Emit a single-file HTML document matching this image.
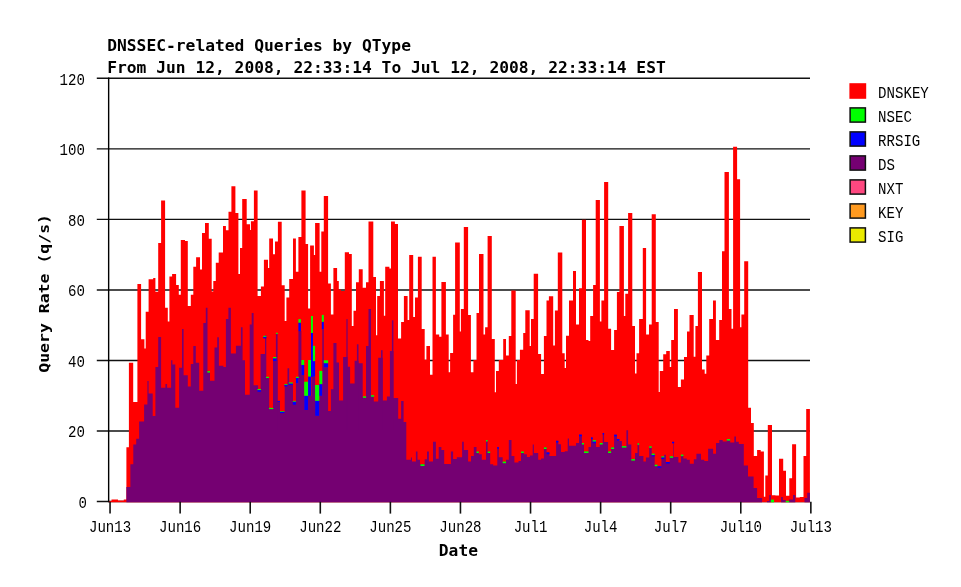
<!DOCTYPE html>
<html><head><meta charset="utf-8"><title>DNSSEC-related Queries by QType</title>
<style>
html,body{margin:0;padding:0;background:#fff;width:961px;height:587px;overflow:hidden}
svg{display:block;will-change:transform}
.b{font-family:"DejaVu Sans Mono","Liberation Mono",monospace;font-weight:bold;font-size:15px;fill:#000}
.s{font-family:"Liberation Mono","DejaVu Sans Mono",monospace;font-size:17.3px;fill:#000}
</style></head><body>
<svg width="961" height="587" viewBox="0 0 961 587">
<rect width="961" height="587" fill="#fff"/>
<line x1="96.8" y1="501.50" x2="810" y2="501.50" stroke="#111" stroke-width="1.45"/>
<line x1="96.8" y1="430.97" x2="810" y2="430.97" stroke="#111" stroke-width="1.45"/>
<line x1="96.8" y1="360.44" x2="810" y2="360.44" stroke="#111" stroke-width="1.45"/>
<line x1="96.8" y1="289.91" x2="810" y2="289.91" stroke="#111" stroke-width="1.45"/>
<line x1="96.8" y1="219.38" x2="810" y2="219.38" stroke="#111" stroke-width="1.45"/>
<line x1="96.8" y1="148.85" x2="810" y2="148.85" stroke="#111" stroke-width="1.45"/>
<line x1="96.8" y1="78.32" x2="810" y2="78.32" stroke="#111" stroke-width="1.45"/>
<path d="M108.6,502.3L108.6,500.9L111.5,500.9L111.5,499.4L118.0,499.4L118.0,500.4L123.8,500.4L123.8,499.4L126.4,499.4L126.4,447.2L128.9,447.2L128.9,362.7L133.2,362.7L133.2,402.0L137.4,402.0L137.4,283.9L141.1,283.9L141.1,339.3L144.4,339.3L144.4,348.5L145.7,348.5L145.7,311.8L148.6,311.8L148.6,279.2L153.2,279.2L153.2,278.0L155.4,278.0L155.4,291.8L158.2,291.8L158.2,243.0L161.1,243.0L161.1,200.4L165.1,200.4L165.1,307.8L167.8,307.8L167.8,321.5L169.4,321.5L169.4,276.4L172.1,276.4L172.1,273.9L176.1,273.9L176.1,285.1L178.8,285.1L178.8,294.8L180.8,294.8L180.8,240.0L185.0,240.0L185.0,241.0L187.8,241.0L187.8,305.9L190.8,305.9L190.8,294.8L193.3,294.8L193.3,266.7L196.1,266.7L196.1,257.2L200.0,257.2L200.0,269.4L202.0,269.4L202.0,233.0L205.0,233.0L205.0,223.0L208.8,223.0L208.8,238.8L211.7,238.8L211.7,291.4L213.3,291.4L213.3,281.0L215.8,281.0L215.8,262.7L218.7,262.7L218.7,252.5L223.0,252.5L223.0,226.0L225.9,226.0L225.9,230.2L228.5,230.2L228.5,211.8L231.4,211.8L231.4,186.2L235.4,186.2L235.4,213.0L238.4,213.0L238.4,273.9L240.0,273.9L240.0,248.0L242.2,248.0L242.2,199.0L246.7,199.0L246.7,224.3L250.0,224.3L250.0,230.0L250.9,230.0L250.9,221.3L253.9,221.3L253.9,190.4L257.6,190.4L257.6,296.1L260.9,296.1L260.9,286.4L263.9,286.4L263.9,259.7L268.0,259.7L268.0,268.0L269.2,268.0L269.2,238.4L273.0,238.4L273.0,254.3L275.0,254.3L275.0,241.5L277.9,241.5L277.9,221.8L281.7,221.8L281.7,285.2L284.7,285.2L284.7,321.1L286.4,321.1L286.4,297.4L289.2,297.4L289.2,279.0L293.0,279.0L293.0,238.4L295.9,238.4L295.9,271.8L298.4,271.8L298.4,237.1L301.4,237.1L301.4,190.4L305.6,190.4L305.6,244.0L308.1,244.0L308.1,308.6L310.1,308.6L310.1,245.5L313.9,245.5L313.9,255.1L315.1,255.1L315.1,223.1L319.6,223.1L319.6,271.8L321.3,271.8L321.3,231.4L323.8,231.4L323.8,195.9L328.1,195.9L328.1,283.5L330.9,283.5L330.9,314.4L333.4,314.4L333.4,268.0L337.1,268.0L337.1,281.0L338.8,281.0L338.8,289.4L341.0,289.4L341.0,291.0L344.8,291.0L344.8,252.3L349.0,252.3L349.0,254.0L351.8,254.0L351.8,326.1L353.5,326.1L353.5,310.7L356.0,310.7L356.0,282.2L358.8,282.2L358.8,269.3L362.7,269.3L362.7,287.7L366.0,287.7L366.0,282.2L368.5,282.2L368.5,221.4L373.3,221.4L373.3,276.9L376.0,276.9L376.0,335.3L377.2,335.3L377.2,296.0L379.9,296.0L379.9,281.0L383.9,281.0L383.9,315.7L385.2,315.7L385.2,266.8L389.4,266.8L389.4,268.5L391.0,268.5L391.0,221.4L394.9,221.4L394.9,223.9L398.0,223.9L398.0,338.6L401.1,338.6L401.1,321.9L403.9,321.9L403.9,296.0L407.6,296.0L407.6,320.0L409.2,320.0L409.2,255.1L413.2,255.1L413.2,317.0L415.0,317.0L415.0,297.6L417.9,297.6L417.9,256.7L421.7,256.7L421.7,328.9L424.7,328.9L424.7,359.8L426.4,359.8L426.4,346.1L430.0,346.1L430.0,374.8L432.5,374.8L432.5,256.7L435.9,256.7L435.9,334.4L439.2,334.4L439.2,336.7L441.4,336.7L441.4,282.1L445.9,282.1L445.9,334.4L448.7,334.4L448.7,372.3L450.1,372.3L450.1,353.1L453.1,353.1L453.1,314.7L455.1,314.7L455.1,242.5L459.8,242.5L459.8,331.4L460.9,331.4L460.9,308.9L463.8,308.9L463.8,227.0L468.1,227.0L468.1,315.0L470.9,315.0L470.9,372.3L473.4,372.3L473.4,360.1L476.5,360.1L476.5,313.0L479.0,313.0L479.0,253.9L483.5,253.9L483.5,334.4L485.1,334.4L485.1,327.2L487.6,327.2L487.6,235.9L491.8,235.9L491.8,338.9L494.8,338.9L494.8,392.3L496.0,392.3L496.0,371.1L498.8,371.1L498.8,360.1L503.2,360.1L503.2,338.9L506.0,338.9L506.0,355.6L508.8,355.6L508.8,336.0L511.3,336.0L511.3,290.5L515.7,290.5L515.7,384.0L516.9,384.0L516.9,360.1L519.9,360.1L519.9,349.7L523.2,349.7L523.2,333.0L525.3,333.0L525.3,310.3L529.7,310.3L529.7,346.1L531.0,346.1L531.0,318.9L533.7,318.9L533.7,273.8L538.1,273.8L538.1,353.9L541.1,353.9L541.1,373.9L543.9,373.9L543.9,336.0L546.5,336.0L546.5,300.5L548.9,300.5L548.9,296.3L553.2,296.3L553.2,345.6L554.9,345.6L554.9,310.5L557.8,310.5L557.8,252.4L562.3,252.4L562.3,353.3L564.7,353.3L564.7,368.0L566.0,368.0L566.0,335.8L569.0,335.8L569.0,300.4L573.0,300.4L573.0,271.0L576.0,271.0L576.0,324.4L579.0,324.4L579.0,288.2L581.9,288.2L581.9,219.7L586.0,219.7L586.0,340.0L588.5,340.0L588.5,341.1L590.2,341.1L590.2,316.1L593.1,316.1L593.1,284.9L595.7,284.9L595.7,200.0L599.9,200.0L599.9,321.6L601.4,321.6L601.4,300.4L604.1,300.4L604.1,182.0L608.2,182.0L608.2,328.8L611.1,328.8L611.1,350.0L614.1,350.0L614.1,330.0L616.9,330.0L616.9,292.0L619.4,292.0L619.4,225.9L623.9,225.9L623.9,316.1L625.3,316.1L625.3,293.7L628.1,293.7L628.1,213.1L632.3,213.1L632.3,326.1L635.0,326.1L635.0,373.5L636.5,373.5L636.5,353.3L639.1,353.3L639.1,319.1L642.8,319.1L642.8,248.0L646.1,248.0L646.1,334.5L649.0,334.5L649.0,324.4L651.7,324.4L651.7,214.2L655.8,214.2L655.8,322.1L658.7,322.1L658.7,391.9L659.8,391.9L659.8,371.0L663.2,371.0L663.2,354.2L666.2,354.2L666.2,351.1L669.8,351.1L669.8,366.9L671.2,366.9L671.2,340.0L674.0,340.0L674.0,309.1L677.9,309.1L677.9,386.9L680.9,386.9L680.9,379.4L684.0,379.4L684.0,357.0L687.0,357.0L687.0,331.6L689.5,331.6L689.5,314.9L693.7,314.9L693.7,356.7L695.4,356.7L695.4,326.1L697.9,326.1L697.9,272.0L702.0,272.0L702.0,369.4L704.7,369.4L704.7,373.7L706.3,373.7L706.3,355.4L709.2,355.4L709.2,319.0L713.0,319.0L713.0,300.4L715.9,300.4L715.9,339.9L719.2,339.9L719.2,320.1L722.0,320.1L722.0,251.2L724.5,251.2L724.5,172.1L728.9,172.1L728.9,309.1L731.5,309.1L731.5,328.7L733.1,328.7L733.1,146.7L737.1,146.7L737.1,179.2L740.1,179.2L740.1,327.2L741.4,327.2L741.4,314.6L744.2,314.6L744.2,261.2L748.2,261.2L748.2,407.8L751.0,407.8L751.0,423.0L753.8,423.0L753.8,456.0L757.1,456.0L757.1,450.0L760.7,450.0L760.7,451.5L763.9,451.5L763.9,496.7L765.3,496.7L765.3,475.4L767.8,475.4L767.8,424.9L772.0,424.9L772.0,495.2L775.4,495.2L775.4,495.6L779.0,495.6L779.0,458.8L783.2,458.8L783.2,470.8L786.0,470.8L786.0,495.7L789.3,495.7L789.3,478.2L792.1,478.2L792.1,444.2L796.1,444.2L796.1,497.5L799.8,497.5L799.8,497.1L803.5,497.1L803.5,456.1L806.2,456.1L806.2,408.9L809.9,408.9L809.9,502.3Z" fill="#ff0000"/>
<path d="M126.4,502.3L126.4,487.0L130.4,487.0L130.4,464.2L133.3,464.2L133.3,444.6L136.2,444.6L136.2,438.8L139.1,438.8L139.1,421.4L144.1,421.4L144.1,404.4L147.4,404.4L147.4,381.0L148.6,381.0L148.6,393.6L152.7,393.6L152.7,416.0L155.4,416.0L155.4,366.9L158.2,366.9L158.2,337.0L161.1,337.0L161.1,387.8L165.4,387.8L165.4,384.0L167.1,384.0L167.1,387.8L171.1,387.8L171.1,360.2L172.4,360.2L172.4,364.4L175.3,364.4L175.3,407.8L179.1,407.8L179.1,367.7L182.0,367.7L182.0,329.0L183.6,329.0L183.6,375.2L187.8,375.2L187.8,386.4L190.8,386.4L190.8,364.0L193.3,364.0L193.3,346.0L195.8,346.0L195.8,362.7L199.2,362.7L199.2,390.8L203.3,390.8L203.3,323.1L205.8,323.1L205.8,307.8L207.5,307.8L207.5,372.0L210.0,372.0L210.0,380.7L214.5,380.7L214.5,347.4L217.2,347.4L217.2,337.3L218.9,337.3L218.9,365.7L223.4,365.7L223.4,366.9L225.9,366.9L225.9,319.0L228.4,319.0L228.4,307.8L230.9,307.8L230.9,353.5L235.9,353.5L235.9,345.7L240.9,345.7L240.9,327.3L242.6,327.3L242.6,360.2L245.0,360.2L245.0,394.8L249.7,394.8L249.7,324.5L251.7,324.5L251.7,313.1L253.6,313.1L253.6,385.2L258.1,385.2L258.1,390.3L260.6,390.3L260.6,354.0L265.0,354.0L265.0,337.0L266.3,337.0L266.3,377.5L269.2,377.5L269.2,408.4L273.0,408.4L273.0,360.0L277.5,360.0L277.5,400.9L280.0,400.9L280.0,411.8L284.7,411.8L284.7,385.0L287.5,385.0L287.5,368.3L289.2,368.3L289.2,383.4L293.0,383.4L293.0,401.7L295.9,401.7L295.9,383.4L298.4,383.4L298.4,331.1L301.4,331.1L301.4,375.0L304.2,375.0L304.2,410.0L308.1,410.0L308.1,395.9L311.4,395.9L311.4,376.7L315.1,376.7L315.1,415.9L319.3,415.9L319.3,395.9L322.3,395.9L322.3,329.4L323.8,329.4L323.8,367.5L328.1,367.5L328.1,410.9L330.9,410.9L330.9,389.2L333.4,389.2L333.4,343.1L336.5,343.1L336.5,362.5L339.0,362.5L339.0,400.6L343.1,400.6L343.1,357.0L347.6,357.0L347.6,366.7L350.1,366.7L350.1,383.4L354.6,383.4L354.6,360.8L358.5,360.8L358.5,363.3L362.7,363.3L362.7,397.6L366.0,397.6L366.0,346.1L368.5,346.1L368.5,309.0L371.0,309.0L371.0,395.6L373.8,395.6L373.8,401.4L378.2,401.4L378.2,357.8L382.7,357.8L382.7,400.6L386.9,400.6L386.9,396.4L389.9,396.4L389.9,351.1L393.5,351.1L393.5,398.1L398.2,398.1L398.2,418.8L401.1,418.8L401.1,400.9L403.6,400.9L403.6,421.9L406.3,421.9L406.3,459.7L410.9,459.7L410.9,457.6L412.0,457.6L412.0,461.4L415.9,461.4L415.9,451.4L417.5,451.4L417.5,459.7L420.0,459.7L420.0,464.3L424.7,464.3L424.7,459.2L427.0,459.2L427.0,451.4L428.9,451.4L428.9,461.4L433.0,461.4L433.0,441.7L435.9,441.7L435.9,458.7L438.7,458.7L438.7,447.1L441.4,447.1L441.4,450.1L444.2,450.1L444.2,463.9L450.9,463.9L450.9,451.4L453.1,451.4L453.1,458.9L456.8,458.9L456.8,457.2L462.1,457.2L462.1,441.7L463.8,441.7L463.8,450.1L468.1,450.1L468.1,461.4L471.0,461.4L471.0,455.9L473.8,455.9L473.8,447.1L476.5,447.1L476.5,451.7L478.8,451.7L478.8,454.2L481.8,454.2L481.8,459.7L486.0,459.7L486.0,440.0L487.6,440.0L487.6,451.7L490.2,451.7L490.2,464.3L493.2,464.3L493.2,465.6L497.3,465.6L497.3,447.1L498.8,447.1L498.8,457.2L502.7,457.2L502.7,461.8L506.0,461.8L506.0,459.7L508.8,459.7L508.8,440.0L511.5,440.0L511.5,455.9L514.4,455.9L514.4,462.6L518.5,462.6L518.5,460.9L521.0,460.9L521.0,451.7L523.9,451.7L523.9,454.2L526.9,454.2L526.9,457.1L529.9,457.1L529.9,455.4L532.7,455.4L532.7,444.6L533.9,444.6L533.9,453.1L538.2,453.1L538.2,459.7L541.1,459.7L541.1,458.4L543.9,458.4L543.9,447.6L546.6,447.6L546.6,452.6L549.4,452.6L549.4,455.9L556.1,455.9L556.1,440.9L558.3,440.9L558.3,444.2L561.0,444.2L561.0,452.0L564.7,452.0L564.7,451.2L567.7,451.2L567.7,438.6L569.0,438.6L569.0,445.8L576.0,445.8L576.0,443.1L579.0,443.1L579.0,434.8L581.9,434.8L581.9,443.1L584.0,443.1L584.0,451.5L588.5,451.5L588.5,447.0L591.0,447.0L591.0,437.5L592.7,437.5L592.7,440.3L596.0,440.3L596.0,447.0L599.7,447.0L599.7,443.1L602.7,443.1L602.7,433.1L604.1,433.1L604.1,442.0L608.1,442.0L608.1,451.5L611.1,451.5L611.1,447.5L614.1,447.5L614.1,434.8L616.9,434.8L616.9,439.1L619.4,439.1L619.4,441.1L621.9,441.1L621.9,446.2L626.4,446.2L626.4,430.3L628.1,430.3L628.1,444.5L631.3,444.5L631.3,459.2L635.0,459.2L635.0,453.1L637.5,453.1L637.5,443.4L639.2,443.4L639.2,455.9L643.4,455.9L643.4,461.4L645.9,461.4L645.9,457.6L649.2,457.6L649.2,446.4L651.7,446.4L651.7,453.7L654.7,453.7L654.7,464.8L657.5,464.8L657.5,466.4L661.4,466.4L661.4,456.4L664.2,456.4L664.2,454.7L665.9,454.7L665.9,462.1L669.7,462.1L669.7,456.4L673.1,456.4L673.1,441.7L673.7,441.7L673.7,457.1L678.4,457.1L678.4,462.6L680.9,462.6L680.9,454.7L683.4,454.7L683.4,458.4L686.8,458.4L686.8,459.7L689.8,459.7L689.8,463.8L693.8,463.8L693.8,459.2L696.4,459.2L696.4,453.7L701.0,453.7L701.0,459.7L704.3,459.7L704.3,460.9L708.1,460.9L708.1,448.7L713.1,448.7L713.1,453.7L716.0,453.7L716.0,443.1L719.3,443.1L719.3,440.0L722.7,440.0L722.7,441.4L726.8,441.4L726.8,439.2L730.2,439.2L730.2,442.6L734.3,442.6L734.3,436.4L736.0,436.4L736.0,441.7L738.8,441.7L738.8,444.0L743.8,444.0L743.8,465.6L748.0,465.6L748.0,476.4L753.6,476.4L753.6,488.0L757.1,488.0L757.1,498.0L762.1,498.0L762.1,502.3L766.9,502.3L766.9,501.0L769.2,501.0L769.2,495.1L770.9,495.1L770.9,502.3L781.1,502.3L781.1,496.9L782.9,496.9L782.9,499.9L785.8,499.9L785.8,502.3L789.1,502.3L789.1,499.6L793.0,499.6L793.0,495.1L795.3,495.1L795.3,502.3L804.5,502.3L804.5,498.0L807.2,498.0L807.2,492.7L809.9,492.7L809.9,502.3Z" fill="#750072"/>
<rect x="275.9" y="333.6" width="1.7" height="96.4" fill="#750072"/><rect x="346.4" y="319.1" width="1.2" height="110.9" fill="#750072"/><rect x="356.9" y="344.3" width="1.6" height="85.7" fill="#750072"/><rect x="381.0" y="350.2" width="1.6" height="79.8" fill="#750072"/><rect x="391.9" y="320.3" width="1.5" height="109.7" fill="#750072"/><rect x="298.4" y="319.1" width="2.5" height="3.7" fill="#00ff00"/><rect x="298.4" y="322.8" width="2.5" height="8.3" fill="#0000ff"/><rect x="301.4" y="360" width="2.8" height="5.0" fill="#00ff00"/><rect x="301.4" y="365" width="2.8" height="10.0" fill="#0000ff"/><rect x="304.2" y="381.7" width="3.9" height="14.2" fill="#00ff00"/><rect x="304.2" y="395.9" width="3.9" height="14.1" fill="#0000ff"/><rect x="308.1" y="360" width="2.9" height="16.7" fill="#00ff00"/><rect x="308.1" y="376.7" width="2.9" height="19.2" fill="#0000ff"/><rect x="311.0" y="316" width="1.9" height="17.0" fill="#00ff00"/><rect x="311.0" y="333" width="1.9" height="44.0" fill="#0000ff"/><rect x="312.9" y="345.8" width="2.2" height="15.4" fill="#00ff00"/><rect x="312.9" y="361.2" width="2.2" height="15.5" fill="#0000ff"/><rect x="315.1" y="385" width="4.2" height="15.9" fill="#00ff00"/><rect x="315.1" y="400.9" width="4.2" height="15.0" fill="#0000ff"/><rect x="319.3" y="370.9" width="3.0" height="13.3" fill="#00ff00"/><rect x="319.3" y="384.2" width="3.0" height="11.7" fill="#0000ff"/><rect x="321.8" y="314.9" width="2.0" height="7.0" fill="#00ff00"/><rect x="321.8" y="321.9" width="2.0" height="7.5" fill="#0000ff"/><rect x="323.8" y="360.3" width="4.3" height="3.0" fill="#00ff00"/><rect x="323.8" y="363.3" width="4.3" height="4.2" fill="#0000ff"/><rect x="265" y="335.5" width="1.3" height="1.5" fill="#0000ff"/><rect x="273" y="357" width="3.4" height="1.5" fill="#00ff00"/><rect x="273" y="358.5" width="3.4" height="2.5" fill="#0000ff"/><rect x="295.9" y="377.5" width="2.5" height="5.9" fill="#0000ff"/><rect x="207.4" y="371.1" width="2.6" height="1.5" fill="#00ff00"/><rect x="257.5" y="389" width="3.5" height="1.2" fill="#00ff00"/><rect x="257.5" y="390.2" width="3.5" height="1.6" fill="#0000ff"/><rect x="263.2" y="335.8" width="3.1" height="1.1" fill="#00ff00"/><rect x="263.2" y="336.9" width="3.1" height="1.5" fill="#0000ff"/><rect x="266" y="376.8" width="3.0" height="1.2" fill="#00ff00"/><rect x="269" y="407.9" width="4.3" height="1.2" fill="#00ff00"/><rect x="275.9" y="332.8" width="1.9" height="1.1" fill="#00ff00"/><rect x="277.5" y="400.9" width="2.5" height="1.0" fill="#0000ff"/><rect x="280" y="411" width="4.4" height="0.8" fill="#00ff00"/><rect x="280" y="411.8" width="4.4" height="1.3" fill="#0000ff"/><rect x="284.4" y="384" width="3.0" height="0.9" fill="#00ff00"/><rect x="284.4" y="384.9" width="3.0" height="1.5" fill="#0000ff"/><rect x="288.7" y="382.5" width="4.1" height="1.2" fill="#00ff00"/><rect x="288.7" y="383.7" width="4.1" height="1.2" fill="#0000ff"/><rect x="292.8" y="400.9" width="3.1" height="0.9" fill="#00ff00"/><rect x="292.8" y="401.8" width="3.1" height="3.0" fill="#0000ff"/><rect x="295.9" y="376.8" width="3.0" height="1.1" fill="#00ff00"/><rect x="363" y="396.3" width="3.1" height="1.5" fill="#00ff00"/><rect x="371" y="395.2" width="3.1" height="1.5" fill="#00ff00"/><rect x="420.5" y="464.3" width="4.0" height="1.7" fill="#00ff00"/><rect x="476.5" y="451.5" width="2.3" height="1.5" fill="#00ff00"/><rect x="486" y="440" width="1.6" height="1.5" fill="#00ff00"/><rect x="487.6" y="451.5" width="2.6" height="1.5" fill="#00ff00"/><rect x="497.3" y="447.1" width="1.5" height="1.7" fill="#0000ff"/><rect x="502.7" y="461.6" width="3.3" height="1.6" fill="#00ff00"/><rect x="521" y="451.5" width="2.9" height="1.5" fill="#00ff00"/><rect x="543.9" y="447.4" width="2.7" height="1.6" fill="#00ff00"/><rect x="546.6" y="452.4" width="2.8" height="1.8" fill="#0000ff"/><rect x="556.1" y="440.7" width="2.2" height="1.8" fill="#0000ff"/><rect x="579" y="434.6" width="2.9" height="1.6" fill="#0000ff"/><rect x="581.9" y="443" width="2.1" height="1.5" fill="#00ff00"/><rect x="584" y="451.4" width="4.5" height="1.6" fill="#00ff00"/><rect x="591" y="437.4" width="1.7" height="1.6" fill="#0000ff"/><rect x="592.7" y="440.2" width="3.3" height="1.5" fill="#00ff00"/><rect x="592.7" y="441.7" width="3.3" height="1.5" fill="#0000ff"/><rect x="599.7" y="443" width="3.0" height="1.5" fill="#00ff00"/><rect x="602.7" y="433" width="1.4" height="1.6" fill="#0000ff"/><rect x="608.1" y="451.4" width="3.0" height="1.6" fill="#00ff00"/><rect x="611.1" y="447.4" width="3.0" height="1.6" fill="#00ff00"/><rect x="614.1" y="434.7" width="2.8" height="1.6" fill="#0000ff"/><rect x="616.9" y="439" width="2.5" height="1.6" fill="#0000ff"/><rect x="621.9" y="446.1" width="4.5" height="1.5" fill="#00ff00"/><rect x="631.3" y="459.1" width="3.7" height="1.5" fill="#00ff00"/><rect x="637.5" y="443.3" width="1.7" height="1.5" fill="#00ff00"/><rect x="649.2" y="446.3" width="2.5" height="1.5" fill="#00ff00"/><rect x="651.7" y="453.6" width="3.0" height="1.5" fill="#00ff00"/><rect x="651.7" y="455.1" width="3.0" height="1.3" fill="#0000ff"/><rect x="654.7" y="464.7" width="2.8" height="1.5" fill="#00ff00"/><rect x="657.5" y="466.3" width="3.9" height="1.5" fill="#0000ff"/><rect x="661.4" y="456.3" width="2.8" height="1.3" fill="#00ff00"/><rect x="661.4" y="457.6" width="2.8" height="1.4" fill="#0000ff"/><rect x="665.9" y="462" width="3.8" height="1.6" fill="#0000ff"/><rect x="669.7" y="456.3" width="3.4" height="1.5" fill="#00ff00"/><rect x="672" y="441.8" width="2.2" height="1.5" fill="#0000ff"/><rect x="680.9" y="454.6" width="2.5" height="1.5" fill="#00ff00"/><rect x="726.8" y="439.1" width="3.4" height="1.5" fill="#00ff00"/><rect x="770.9" y="499.6" width="3.1" height="2.7" fill="#00ff00"/><rect x="785.8" y="500.8" width="3.3" height="1.5" fill="#00ff00"/>
<line x1="108.65" y1="77.62" x2="108.65" y2="502.2" stroke="#000" stroke-width="1.4"/>
<line x1="110.05" y1="501.8" x2="110.05" y2="513.6" stroke="#111" stroke-width="1.6"/>
<text x="110.05" y="531.9" text-anchor="middle" class="s" textLength="42.2" lengthAdjust="spacingAndGlyphs">Jun13</text>
<line x1="180.13" y1="501.8" x2="180.13" y2="513.6" stroke="#111" stroke-width="1.6"/>
<text x="180.13" y="531.9" text-anchor="middle" class="s" textLength="42.2" lengthAdjust="spacingAndGlyphs">Jun16</text>
<line x1="250.21" y1="501.8" x2="250.21" y2="513.6" stroke="#111" stroke-width="1.6"/>
<text x="250.21" y="531.9" text-anchor="middle" class="s" textLength="42.2" lengthAdjust="spacingAndGlyphs">Jun19</text>
<line x1="320.29" y1="501.8" x2="320.29" y2="513.6" stroke="#111" stroke-width="1.6"/>
<text x="320.29" y="531.9" text-anchor="middle" class="s" textLength="42.2" lengthAdjust="spacingAndGlyphs">Jun22</text>
<line x1="390.37" y1="501.8" x2="390.37" y2="513.6" stroke="#111" stroke-width="1.6"/>
<text x="390.37" y="531.9" text-anchor="middle" class="s" textLength="42.2" lengthAdjust="spacingAndGlyphs">Jun25</text>
<line x1="460.45" y1="501.8" x2="460.45" y2="513.6" stroke="#111" stroke-width="1.6"/>
<text x="460.45" y="531.9" text-anchor="middle" class="s" textLength="42.2" lengthAdjust="spacingAndGlyphs">Jun28</text>
<line x1="530.53" y1="501.8" x2="530.53" y2="513.6" stroke="#111" stroke-width="1.6"/>
<text x="530.53" y="531.9" text-anchor="middle" class="s" textLength="33.8" lengthAdjust="spacingAndGlyphs">Jul1</text>
<line x1="600.61" y1="501.8" x2="600.61" y2="513.6" stroke="#111" stroke-width="1.6"/>
<text x="600.61" y="531.9" text-anchor="middle" class="s" textLength="33.8" lengthAdjust="spacingAndGlyphs">Jul4</text>
<line x1="670.69" y1="501.8" x2="670.69" y2="513.6" stroke="#111" stroke-width="1.6"/>
<text x="670.69" y="531.9" text-anchor="middle" class="s" textLength="33.8" lengthAdjust="spacingAndGlyphs">Jul7</text>
<line x1="740.77" y1="501.8" x2="740.77" y2="513.6" stroke="#111" stroke-width="1.6"/>
<text x="740.77" y="531.9" text-anchor="middle" class="s" textLength="42.2" lengthAdjust="spacingAndGlyphs">Jul10</text>
<line x1="810.85" y1="501.8" x2="810.85" y2="513.6" stroke="#111" stroke-width="1.6"/>
<text x="810.85" y="531.9" text-anchor="middle" class="s" textLength="42.2" lengthAdjust="spacingAndGlyphs">Jul13</text>
<text x="86.9" y="507.70" text-anchor="end" class="s" textLength="8.4" lengthAdjust="spacingAndGlyphs">0</text>
<text x="84.9" y="437.17" text-anchor="end" class="s" textLength="16.9" lengthAdjust="spacingAndGlyphs">20</text>
<text x="84.9" y="366.64" text-anchor="end" class="s" textLength="16.9" lengthAdjust="spacingAndGlyphs">40</text>
<text x="84.9" y="296.11" text-anchor="end" class="s" textLength="16.9" lengthAdjust="spacingAndGlyphs">60</text>
<text x="84.9" y="225.58" text-anchor="end" class="s" textLength="16.9" lengthAdjust="spacingAndGlyphs">80</text>
<text x="84.9" y="155.05" text-anchor="end" class="s" textLength="25.3" lengthAdjust="spacingAndGlyphs">100</text>
<text x="84.9" y="84.52" text-anchor="end" class="s" textLength="25.3" lengthAdjust="spacingAndGlyphs">120</text>
<text x="107.2" y="50.8" class="b" textLength="303.8" lengthAdjust="spacingAndGlyphs">DNSSEC-related Queries by QType</text>
<text x="107.2" y="72.7" class="b" textLength="558.6" lengthAdjust="spacingAndGlyphs">From Jun 12, 2008, 22:33:14 To Jul 12, 2008, 22:33:14 EST</text>
<text x="438.8" y="555.8" class="b" textLength="39.2" lengthAdjust="spacingAndGlyphs">Date</text>
<text transform="translate(49.0,372.8) rotate(-90)" x="0" y="0" class="b" style="font-size:14px" textLength="158.8" lengthAdjust="spacingAndGlyphs">Query Rate (q/s)</text>
<rect x="849.4" y="83.20" width="16.8" height="15.6" fill="#ff0000"/>
<text x="878.1" y="97.50" class="s" textLength="50.7" lengthAdjust="spacingAndGlyphs">DNSKEY</text>
<rect x="850.1" y="107.90" width="15.3" height="14.2" fill="#00ff00" stroke="#111" stroke-width="1.5"/>
<text x="878.1" y="121.50" class="s" textLength="33.8" lengthAdjust="spacingAndGlyphs">NSEC</text>
<rect x="850.1" y="131.90" width="15.3" height="14.2" fill="#0000ff" stroke="#111" stroke-width="1.5"/>
<text x="878.1" y="145.50" class="s" textLength="42.2" lengthAdjust="spacingAndGlyphs">RRSIG</text>
<rect x="850.1" y="155.90" width="15.3" height="14.2" fill="#750072" stroke="#111" stroke-width="1.5"/>
<text x="878.1" y="169.50" class="s" textLength="16.9" lengthAdjust="spacingAndGlyphs">DS</text>
<rect x="850.1" y="179.90" width="15.3" height="14.2" fill="#ff4880" stroke="#111" stroke-width="1.5"/>
<text x="878.1" y="193.50" class="s" textLength="25.3" lengthAdjust="spacingAndGlyphs">NXT</text>
<rect x="850.1" y="203.90" width="15.3" height="14.2" fill="#ff9a20" stroke="#111" stroke-width="1.5"/>
<text x="878.1" y="217.50" class="s" textLength="25.3" lengthAdjust="spacingAndGlyphs">KEY</text>
<rect x="850.1" y="227.90" width="15.3" height="14.2" fill="#eaea00" stroke="#111" stroke-width="1.5"/>
<text x="878.1" y="241.50" class="s" textLength="25.3" lengthAdjust="spacingAndGlyphs">SIG</text>
</svg>
</body></html>
